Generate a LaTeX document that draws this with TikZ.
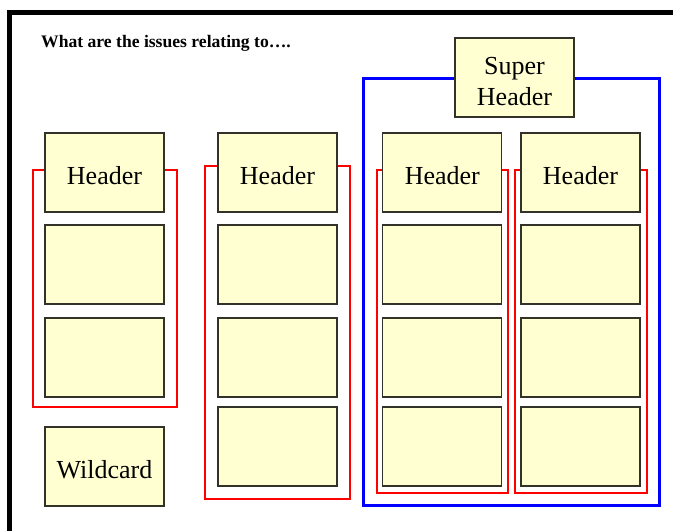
\documentclass[tikz,border=0pt]{standalone}
\usepackage{fontspec}
\setmainfont{Liberation Serif}
\definecolor{boxfill}{RGB}{255,255,210}
\definecolor{boxline}{RGB}{50,50,40}
\newcommand{\cardtxt}[1]{\raisebox{-6pt}[\height][\depth]{\begin{tabular}{@{}c@{}}#1\end{tabular}}}
\tikzset{
  card/.style={draw=boxline, line width=1.3pt, fill=boxfill, minimum width=119pt, minimum height=79pt, inner sep=0pt, align=center, font=\fontsize{26}{31}\selectfont},
  redbracket/.style={draw=red, line width=2pt},
  bluebracket/.style={draw=blue, line width=3pt},
}
\begin{document}
\begin{tikzpicture}[x=1pt, y=-1pt]
\useasboundingbox (0,0) rectangle (673,531);
\fill[white] (0,0) rectangle (673,531);
% frame
\draw[line width=5pt] (9.5,531) -- (9.5,12.5) -- (673,12.5);
% title
\node[anchor=base west, inner sep=0pt, font=\fontsize{17.6}{21}\bfseries\selectfont] (title) at (41,47) {What are the issues relating to\ldots.};
% brackets (behind cards)
\draw[bluebracket] (363,78) rectangle (659.5,505.5);
\draw[redbracket] (33,170) rectangle (177,407);
\draw[redbracket] (205,166) rectangle (350,498.5);
\draw[redbracket] (376.5,170) rectangle (507.5,492.5);
\draw[redbracket] (514.5,170) rectangle (647,492.5);
% super header
\node[card] (super) at (514.5,77.5) {\cardtxt{Super\\Header}};
% column 1
\node[card] (h1) at (104.5,172.5) {\cardtxt{Header}};
\node[card] (c1a) at (104.5,264.5) {};
\node[card] (c1b) at (104.5,357.5) {};
\node[card] (wild) at (104.5,466.5) {\cardtxt{Wildcard}};
% column 2
\node[card] (h2) at (277.5,172.5) {\cardtxt{Header}};
\node[card] (c2a) at (277.5,264.5) {};
\node[card] (c2b) at (277.5,357.5) {};
\node[card] (c2c) at (277.5,446.5) {};
% column 3
\node[card] (h3) at (442.3,172.5) {\cardtxt{Header}};
\node[card] (c3a) at (442.3,264.5) {};
\node[card] (c3b) at (442.3,357.5) {};
\node[card] (c3c) at (442.3,446.5) {};
% column 4
\node[card] (h4) at (580.5,172.5) {\cardtxt{Header}};
\node[card] (c4a) at (580.5,264.5) {};
\node[card] (c4b) at (580.5,357.5) {};
\node[card] (c4c) at (580.5,446.5) {};
\end{tikzpicture}
\end{document}
